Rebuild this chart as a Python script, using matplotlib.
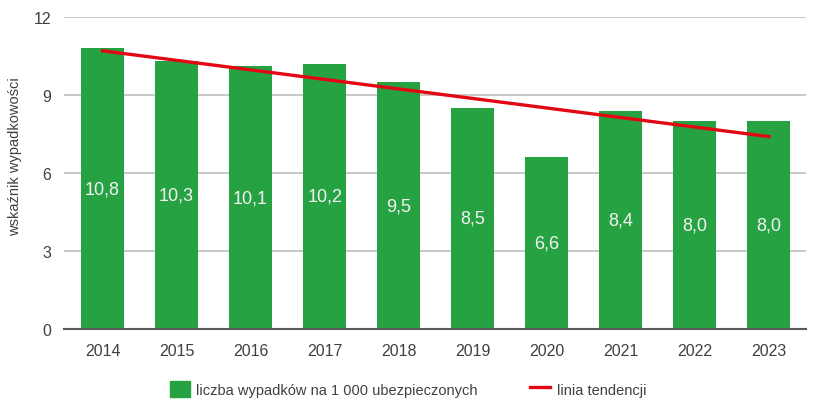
import matplotlib.pyplot as plt
from matplotlib.patches import Patch
from matplotlib.lines import Line2D

years = ["2014", "2015", "2016", "2017", "2018", "2019", "2020", "2021", "2022", "2023"]
values = [10.8, 10.3, 10.1, 10.2, 9.5, 8.5, 6.6, 8.4, 8.0, 8.0]
trend_x = [0, 9]
trend_y = [10.7, 7.4]

plt.rcParams["font.family"] = ["Liberation Sans", "DejaVu Sans"]

green = "#27a243"
red = "#e30613"
txt = "#404040"

fig = plt.figure(figsize=(8.14, 4.02), dpi=100)
ax = fig.add_axes([64 / 814, 72 / 402, 742 / 814, 312 / 402])

x = range(len(years))
ax.bar(x, values, width=0.58, color=green, zorder=2)
for i, v in enumerate(values):
    ax.text(i, v / 2, f"{v:.1f}".replace(".", ","), ha="center", va="center",
            color="#f2f2f2", fontsize=13, zorder=4)

ax.plot(trend_x, trend_y, color=red, lw=2.4, zorder=3)

ax.set_ylim(0, 12)
ax.set_xlim(-0.52, 9.5)
ax.set_yticks([0, 3, 6, 9, 12])
ax.set_xticks(list(x))
ax.set_xticklabels(years)
ax.yaxis.grid(True, color="#bfbfbf", lw=1.2, zorder=0)
ax.set_axisbelow(True)
for s in ["top", "right", "left"]:
    ax.spines[s].set_visible(False)
ax.spines["bottom"].set_color("#595959")
ax.spines["bottom"].set_linewidth(1.5)
ax.tick_params(axis="both", length=0, labelsize=11.5, colors=txt, pad=10)
ax.tick_params(axis="y", pad=9)

fig.text(15 / 814, 1 - 157 / 402, "wskaźnik wypadkowości", rotation=90,
         ha="center", va="center", fontsize=10.5, color=txt)

handles = [Patch(color=green), Line2D([], [], color=red, lw=2.4)]
labels = ["liczba wypadków na 1 000 ubezpieczonych", "linia tendencji"]
fig.legend(handles, labels, loc="center", bbox_to_anchor=(408 / 814, 1 - 390 / 402),
           ncol=2, frameon=False, fontsize=10.5, labelcolor=txt, columnspacing=3.6,
           handlelength=1.35, handletextpad=0.45, handleheight=1.3)

fig.savefig("out.png", dpi=100)
